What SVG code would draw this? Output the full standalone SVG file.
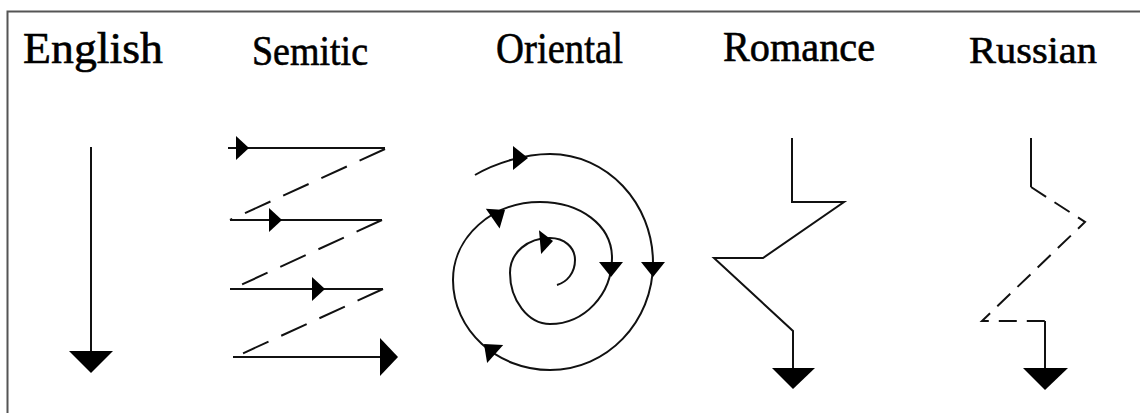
<svg xmlns="http://www.w3.org/2000/svg" width="1140" height="413" viewBox="0 0 1140 413">
<style>
.lbl{font-family:"Liberation Serif","Times New Roman",serif;fill:#000;stroke:#000;stroke-width:0.6}
.ln{fill:none;stroke:#111;stroke-width:2;stroke-linejoin:miter}
.dash{fill:none;stroke:#111;stroke-width:2;stroke-dasharray:28 14}
.rdash{fill:none;stroke:#111;stroke-width:2;stroke-dasharray:18 10}
.head{fill:#000}
</style>
<defs>
<path id="big" d="M0,0 L-22,-22 L-22,22 Z"/>
<path id="sm" d="M0,0 L-13,-12 L-13,12 Z"/>
<path id="sp" d="M0,0 L-15,-12 L-15,12 Z"/>
</defs>
<rect width="1140" height="413" fill="#fff"/>
<path d="M7.5,413 L7.5,11.5 L1140,11.5" fill="none" stroke="#555" stroke-width="2"/>

<g id="english">
<text class="lbl" x="23" y="63" font-size="45" textLength="140" lengthAdjust="spacingAndGlyphs">English</text>
<line class="ln" x1="91" y1="147" x2="91" y2="355"/>
<use href="#big" class="head" transform="translate(91,373) rotate(90)"/>
</g>

<g id="semitic">
<text class="lbl" x="252" y="65" font-size="42" textLength="116" lengthAdjust="spacingAndGlyphs">Semitic</text>
<line class="ln" x1="228" y1="148" x2="385" y2="148"/>
<line class="ln" x1="230" y1="220" x2="382" y2="220"/>
<line class="ln" x1="230" y1="289" x2="383" y2="289"/>
<line class="ln" x1="233" y1="357" x2="385" y2="357"/>
<use href="#sm" class="head" transform="translate(249,148)"/>
<use href="#sm" class="head" transform="translate(282,220)"/>
<use href="#sm" class="head" transform="translate(325,289)"/>
<path class="head" d="M398,357 L380,338 L380,376 Z"/>
</g>

<g id="oriental">
<text class="lbl" x="496" y="63" font-size="45" textLength="127" lengthAdjust="spacingAndGlyphs">Oriental</text>
<path class="ln" d="M475,175 C495,163 525,154 550,154 C607,154 653,203 653,263 C653,322 607,370 550,370 C497,370 453,330 453,280 C453,237 492,202 540,202 C580,202 612,225 612,258 C612,295 584,324 550,324 C528,324 510,300 510,273 C510,252 528,238 550,238 C564,238 575,247 575,260 C575,273 567,282 557,285"/>
<use href="#sp" class="head" transform="translate(528,158)"/>
<use href="#sp" class="head" transform="translate(653,277) rotate(90)"/>
<use href="#sp" class="head" transform="translate(611,277) rotate(90)"/>
<use href="#sp" class="head" transform="translate(484,344) rotate(-138)"/>
<use href="#sp" class="head" transform="translate(505,210) rotate(-35)"/>
<use href="#sm" class="head" transform="translate(553,241) rotate(-5)"/>
</g>

<g id="romance">
<text class="lbl" x="723" y="61" font-size="42" textLength="152" lengthAdjust="spacingAndGlyphs">Romance</text>
<polyline class="ln" points="792,138 792,202 844,202 763,258 714,258 793,331 793,370"/>
<path class="head" d="M793,389 L772,368 L815,368 Z"/>
</g>

<g id="russian">
<text class="lbl" x="969" y="63" font-size="38" textLength="128" lengthAdjust="spacingAndGlyphs">Russian</text>
<polyline class="ln" points="1031,138 1031,187"/>
<polyline class="rdash" points="1031,187 1085,222 982,321 1045,321"/>
<polyline class="ln" points="1045,321 1045,370"/>
<path class="head" d="M1045,390 L1023,368 L1068,368 Z"/>
</g>

<g id="connectors">
<line class="dash" x1="385" y1="149" x2="230" y2="220"/>
<line class="dash" x1="382" y1="220" x2="230" y2="290"/>
<line class="dash" x1="383" y1="289" x2="235" y2="357"/>
</g>
</svg>
